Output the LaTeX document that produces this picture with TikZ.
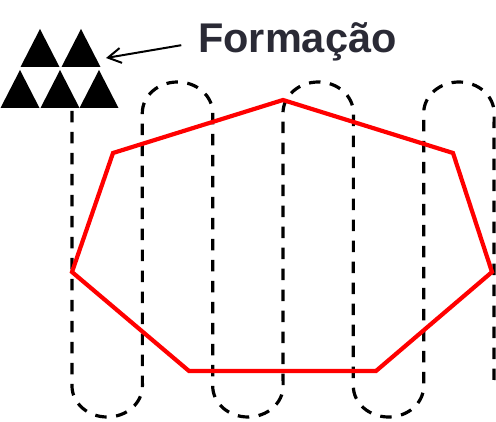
\documentclass[tikz,border=0pt]{standalone}
\usepackage{fontspec}
\setmainfont{Liberation Sans}
\usetikzlibrary{arrows.meta}
\definecolor{TextoEscuro}{HTML}{2A2A35}
\definecolor{Rota}{HTML}{FF0000}

\begin{document}
\begin{tikzpicture}[x=1pt,y=1pt,
      tri/.style={fill=black,draw=none},
      trilha/.style={black,line width=3.2pt,dash pattern=on 11.5pt off 9.5pt},
      area/.style={Rota,line width=4.2pt,line join=miter},
      seta/.style={-{Straight Barb[length=13pt,width=15pt]},line width=2pt}]
      \useasboundingbox (0,0) rectangle (496,421);
      % formation of vehicles
      \newcommand{\veiculo}[2]{\fill[tri] (#1-19.5,#2) -- (#1+19.5,#2) -- (#1,#2+38) -- cycle;}
      \veiculo{40}{354}
      \veiculo{81}{354}
      \veiculo{20}{313}
      \veiculo{60}{313}
      \veiculo{99}{313}
      % survey path
      \draw[trilha] (72,310) -- (72,35)
        arc[start angle=180,end angle=360,x radius=35.2pt,y radius=31pt] -- (142.3,308)
        arc[start angle=180,end angle=0,x radius=35.2pt,y radius=31pt] -- (212.7,35)
        arc[start angle=180,end angle=360,x radius=35.2pt,y radius=31pt] -- (283,308)
        arc[start angle=180,end angle=0,x radius=35.2pt,y radius=31pt] -- (353.3,35)
        arc[start angle=180,end angle=360,x radius=35.2pt,y radius=31pt] -- (423.7,308)
        arc[start angle=180,end angle=0,x radius=35.2pt,y radius=31pt] -- (494,41);
      % area of interest
      \draw[area] (72,149) -- (113,268) -- (283,321) -- (453,268) -- (492,149)
        -- (376,50) -- (189,50) -- cycle;
      % label
      \node[anchor=base west,inner sep=0pt,text=TextoEscuro,font=\fontsize{41.5}{41.5}\selectfont\bfseries]
        (formacao) at (198,368) {Formação};
      \coordinate (alvo) at (106,363);
      \draw[seta,shorten <=17pt] (formacao.west) -- (alvo);
    \end{tikzpicture}
\end{document}
